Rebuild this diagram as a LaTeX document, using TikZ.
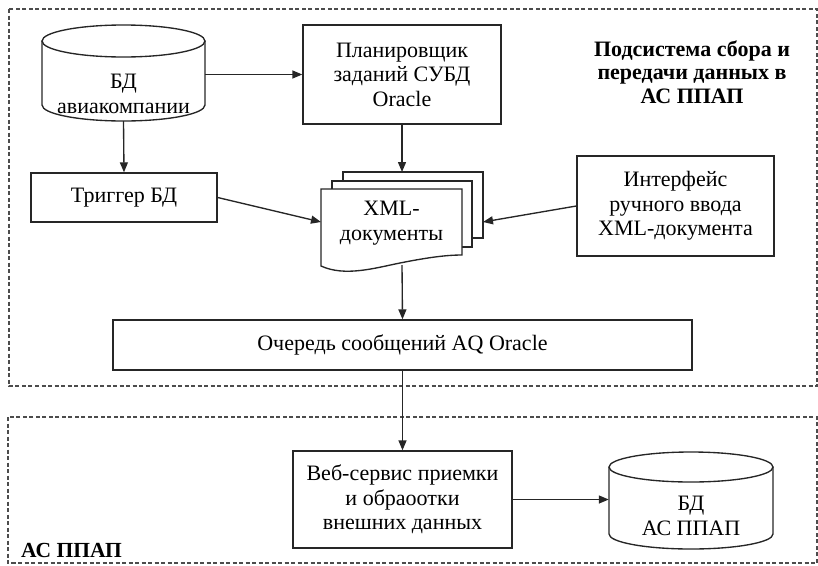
\documentclass[tikz,border=0pt]{standalone}
\usepackage{fontspec}
\setmainfont{Liberation Serif}
\usetikzlibrary{arrows.meta}
\begin{document}
\begin{tikzpicture}[x=1pt,y=-1pt,
  line/.style={draw=black!85, line width=1.35pt},
  arr/.style={line, -{Triangle[length=10pt,width=8pt]}},
  frame/.style={draw=black!70, line width=1.3pt, dash pattern=on 4pt off 2.5pt},
  box/.style={line, fill=white, inner sep=0pt, font=\fontsize{22}{24.5}\selectfont, align=center},
  lbl/.style={inner sep=0pt, font=\fontsize{22}{24.5}\selectfont, align=center},
  ttl/.style={inner sep=0pt, font=\bfseries\fontsize{22}{23.5}\selectfont, align=center},
  cylnode/.style={inner sep=0pt}
]
\useasboundingbox (0,0) rectangle (818,565);

% subsystem frames
\draw[frame] (9,9) rectangle (817,386);
\draw[frame] (8,417) rectangle (817,563);

% airline database (cylinder)
\node[cylnode, minimum width=163pt, minimum height=96pt] (db1) at (123.5,73) {};
\draw[line] (42,41) -- (42,105) arc[start angle=180, end angle=360, x radius=81.5pt, y radius=16pt] -- (205,41);
\draw[line] (123.5,41) ellipse [x radius=81.5pt, y radius=16pt];
\node[lbl] at (123.5,94) {БД\\авиакомпании};

% scheduler
\node[box, minimum width=198pt, minimum height=99pt] (plan) at (402,74.5) {Планировщик\\заданий СУБД\\Oracle};

% title of the upper subsystem
\node[ttl] (title) at (692,72) {Подсистема сбора и\\передачи данных в\\АС ППАП};

% trigger
\node[box, minimum width=186pt, minimum height=49pt] (trig) at (124,197.5) {Триггер БД};

% interface for manual input
\node[box, minimum width=197pt, minimum height=100pt] (intf) at (675.5,206) {Интерфейс\\ручного ввода\\XML-документа};

% stack of XML documents
\draw[line, fill=white] (343,172) rectangle (483,238);
\draw[line, fill=white] (332,181) rectangle (472,247);
\draw[line, fill=white] (321,189) -- (462,189) -- (462,255)
  .. controls (445,255) and (425,258) .. (400,263)
  .. controls (375,268) and (345,277) .. (321,266) -- cycle;
\node[lbl] (xml) at (391.5,223) {XML-\\документы};
\coordinate (xmlT) at (402,172);
\coordinate (xmlL) at (321,222);
\coordinate (xmlR) at (483,222);
\coordinate (xmlB) at (402,265);

% message queue
\node[box, minimum width=579pt, minimum height=50pt] (queue) at (402.5,345) {Очередь сообщений AQ Oracle};

% web service
\node[box, minimum width=219pt, minimum height=97pt] (web) at (402.5,499.5) {Веб-сервис приемки\\и обраоотки\\внешних данных};

% target database (cylinder)
\node[cylnode, minimum width=164pt, minimum height=97pt] (db2) at (691,500.5) {};
\draw[line] (609,467) -- (609,534) arc[start angle=180, end angle=360, x radius=82pt, y radius=15pt] -- (773,467);
\draw[line] (691,467) ellipse [x radius=82pt, y radius=15pt];
\node[lbl] at (691,516) {БД\\АС ППАП};

% label of the lower subsystem
\node[ttl, anchor=base west, font=\bfseries\fontsize{21.5}{23.5}\selectfont] (asppap) at (21,557) {АС ППАП};

% connectors
\draw[arr] (db1.east |- plan.west) -- (plan.west);
\draw[arr] (db1.south) -- (trig.north);
\draw[arr] (plan.south) -- (xmlT);
\draw[arr] (trig.east) -- (xmlL);
\draw[arr] (intf.west) -- (xmlR);
\draw[arr] (xmlB) -- (queue.north);
\draw[arr] (queue.south) -- (web.north);
\draw[arr] (web.east) -- (web.east -| db2.west);
\end{tikzpicture}
\end{document}
